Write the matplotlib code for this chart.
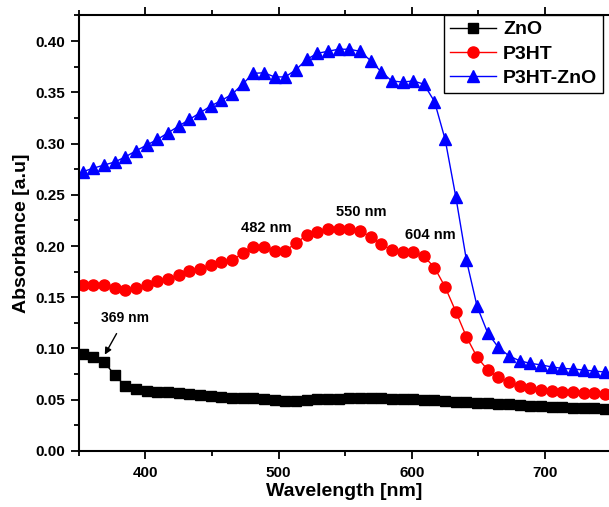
import numpy as np
import matplotlib
matplotlib.use('Agg')
import matplotlib.pyplot as plt
from matplotlib.ticker import MultipleLocator

plt.rcParams['font.family'] = ['Liberation Sans', 'DejaVu Sans']
plt.rcParams['font.weight'] = 'bold'

# wavelength grid of the measured points (nm)
wl = np.arange(353, 746, 8)

zno = [0.0946, 0.092, 0.087, 0.074, 0.0634, 0.0605, 0.0589, 0.058, 0.0575, 0.0563,
       0.0553, 0.0547, 0.0537, 0.053, 0.0514, 0.0514, 0.0514, 0.051, 0.0498, 0.049,
       0.049, 0.050, 0.0505, 0.051, 0.051, 0.0515, 0.052, 0.052, 0.0515, 0.051,
       0.051, 0.0505, 0.050, 0.0495, 0.049, 0.048, 0.0475, 0.047, 0.0465, 0.046,
       0.0455, 0.0445, 0.044, 0.0435, 0.043, 0.0425, 0.042, 0.042, 0.0415, 0.041]

p3ht = [0.162, 0.162, 0.162, 0.159, 0.157, 0.159, 0.162, 0.166, 0.168, 0.1717,
        0.176, 0.178, 0.1815, 0.184, 0.186, 0.193, 0.1995, 0.199, 0.1955, 0.1955,
        0.2026, 0.2107, 0.214, 0.2163, 0.217, 0.217, 0.215, 0.209, 0.202, 0.196,
        0.1945, 0.194, 0.190, 0.179, 0.160, 0.136, 0.1113, 0.0915, 0.079, 0.0723,
        0.067, 0.0637, 0.061, 0.0595, 0.059, 0.058, 0.058, 0.057, 0.057, 0.056]

p3ht_zno = [0.2725, 0.276, 0.279, 0.282, 0.287, 0.293, 0.2985, 0.304, 0.3105, 0.317,
            0.3235, 0.330, 0.3366, 0.342, 0.348, 0.358, 0.3685, 0.369, 0.365, 0.365,
            0.372, 0.382, 0.388, 0.390, 0.392, 0.392, 0.390, 0.381, 0.370, 0.361,
            0.360, 0.361, 0.358, 0.341, 0.304, 0.248, 0.186, 0.141, 0.115, 0.101,
            0.0927, 0.088, 0.0855, 0.084, 0.082, 0.0806, 0.080, 0.079, 0.078, 0.077]

fig = plt.figure(figsize=(6.09, 5.07), dpi=100)
ax = fig.add_axes([0.1294, 0.1105, 0.8706, 0.8599])

ax.plot(wl, zno, color='black', marker='s', markersize=7.4, linewidth=1, label='ZnO')
ax.plot(wl, p3ht, color='red', marker='o', markersize=8, linewidth=1, label='P3HT')
ax.plot(wl, p3ht_zno, color='blue', marker='^', markersize=8.7, linewidth=1, label='P3HT-ZnO')

ax.set_xlim(350, 748)
ax.set_ylim(0, 0.4254)
ax.xaxis.set_major_locator(MultipleLocator(100))
ax.xaxis.set_minor_locator(MultipleLocator(50))
ax.yaxis.set_major_locator(MultipleLocator(0.05))
ax.yaxis.set_minor_locator(MultipleLocator(0.025))
ax.yaxis.set_major_formatter(matplotlib.ticker.FormatStrFormatter('%.2f'))

ax.tick_params(which='both', direction='out', width=1.3, labelsize=11, top=True)
ax.tick_params(which='major', length=6)
ax.tick_params(which='minor', length=3.5)
ax.tick_params(axis='x', pad=5)
for s in ['left', 'bottom', 'top']:
    ax.spines[s].set_linewidth(1.5)
ax.spines['right'].set_visible(False)

ax.set_xlabel('Wavelength [nm]', fontsize=14, fontweight='bold', labelpad=2)
ax.set_ylabel('Absorbance [a.u]', fontsize=14, fontweight='bold', labelpad=4)

ax.annotate('369 nm', xy=(369.5, 0.094), xytext=(385, 0.130), fontsize=10,
            fontweight='bold', ha='center', va='center',
            arrowprops=dict(arrowstyle='-|>', color='black', lw=1, shrinkA=5, shrinkB=0,
                            mutation_scale=10))
ax.text(491, 0.2176, '482 nm', fontsize=10.5, fontweight='bold', ha='center', va='center')
ax.text(562, 0.233, '550 nm', fontsize=10.5, fontweight='bold', ha='center', va='center')
ax.text(614, 0.2107, '604 nm', fontsize=10.5, fontweight='bold', ha='center', va='center')

leg = ax.legend(loc='upper right', bbox_to_anchor=(0.989, 1.0), borderaxespad=0,
                fancybox=False, edgecolor='black', framealpha=1,
                labelspacing=0.35, handlelength=2.4, handletextpad=0.35,
                borderpad=0.3, prop={'weight': 'bold', 'size': 14})
leg.get_frame().set_linewidth(1)

fig.savefig('out.png', dpi=100)
